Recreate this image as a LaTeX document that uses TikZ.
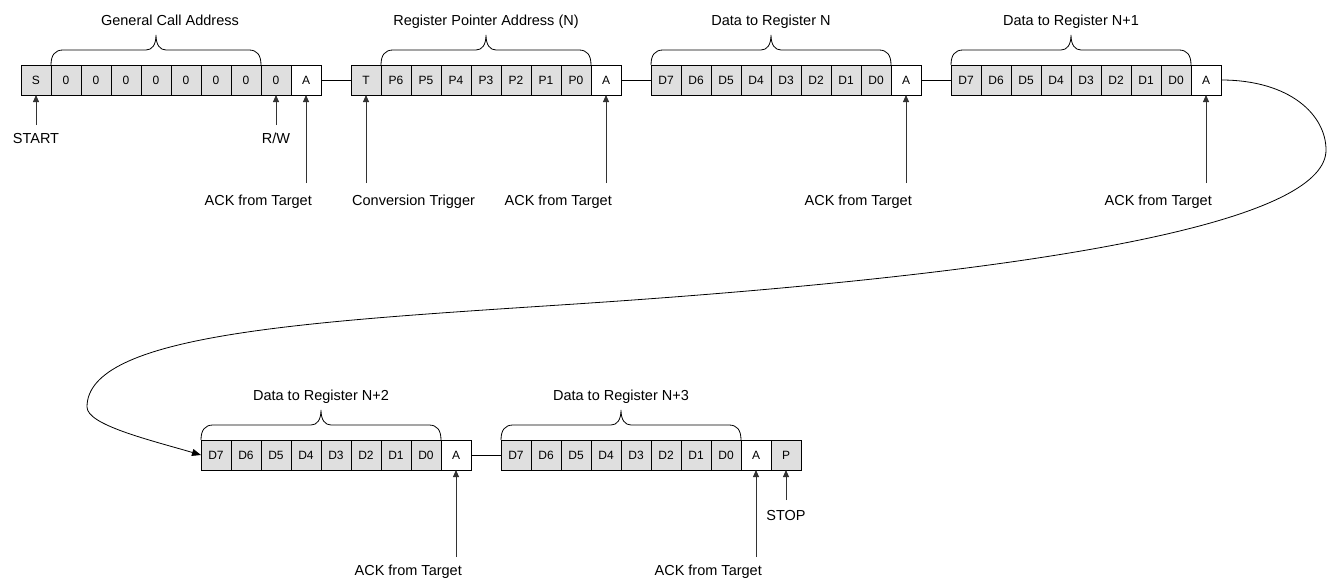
\documentclass[tikz,border=0pt]{standalone}
\usepackage{fontspec}
\setmainfont{Liberation Sans}
\usetikzlibrary{positioning,calc,arrows.meta}

\tikzset{
	bit/.style = {draw, fill=gray!25, minimum width=30pt, minimum height=30pt,
		inner sep=0pt, outer sep=0pt, line width=0.8pt, font=\fontsize{12}{14}\selectfont},
	ackbit/.style = {bit, fill=white},
	lbl/.style = {inner sep=0pt, font=\fontsize{14.5}{17}\selectfont},
	link/.style = {line width=0.8pt},
	tick/.style = {line width=0.8pt, black!80, -{Triangle[length=7pt,width=6pt]}},
	brace/.style = {line width=0.8pt}
}

% one data byte: D7 ... D0 followed by the ack bit
\newcommand{\databyte}[2]{%
	\node[bit, #2] (#1-0) {D7};
	\foreach \b [count=\i, remember=\i as \j (initially 0)] in {D6,D5,D4,D3,D2,D1,D0}
		\node[bit, right=0pt of #1-\j] (#1-\i) {\b};
	\node[ackbit, right=0pt of #1-7] (#1-a) {A};
}

% curly brace over a field, with its title
\newcommand{\fieldbrace}[4][0pt]{%
	\draw[brace] let \p1=(#2.north west), \p2=(#3.north east), \n1={0.5*(\x1+\x2)} in
		(\p1) .. controls (\x1,\y1+10pt) and (\x1+4pt,\y1+15pt) .. (\x1+12pt,\y1+15pt)
		-- (\n1-10pt,\y1+15pt) .. controls (\n1-4pt,\y1+15pt) and (\n1,\y1+20pt) .. (\n1,\y1+30pt)
		.. controls (\n1,\y1+20pt) and (\n1+4pt,\y1+15pt) .. (\n1+10pt,\y1+15pt)
		-- (\x2-12pt,\y1+15pt) .. controls (\x2-4pt,\y1+15pt) and (\x2,\y1+10pt) .. (\p2)
		node[lbl, anchor=base, xshift=#1] (#2-title) at (\n1,\y1+40pt) {#4};
}

\begin{document}
\begin{tikzpicture}[x=1pt, y=-1pt]
	\useasboundingbox (0,0) rectangle (1328,581);

	% general call address
	\node[bit] (g1-0) at (36,80) {S};
	\foreach \b [count=\i, remember=\i as \j (initially 0)] in {0,0,0,0,0,0,0,0}
		\node[bit, right=0pt of g1-\j] (g1-\i) {\b};
	\node[ackbit, right=0pt of g1-8] (g1-a) {A};

	% register pointer
	\node[bit, right=30pt of g1-a] (g2-0) {T};
	\foreach \b [count=\i, remember=\i as \j (initially 0)] in {P6,P5,P4,P3,P2,P1,P0}
		\node[bit, right=0pt of g2-\j] (g2-\i) {\b};
	\node[ackbit, right=0pt of g2-7] (g2-a) {A};

	% data bytes
	\databyte{g3}{right=30pt of g2-a}
	\databyte{g4}{right=30pt of g3-a}
	\databyte{g5}{at={(216,455)}}
	\databyte{g6}{right=30pt of g5-a}
	\node[bit, right=0pt of g6-a] (g6-p) {P};

	\draw[link] (g1-a) -- (g2-0);
	\draw[link] (g2-a) -- (g3-0);
	\draw[link] (g3-a) -- (g4-0);
	\draw[link] (g5-a) -- (g6-0);
	\draw[link, -{Triangle[length=9pt,width=7pt]}] (g4-a.east)
		.. controls (1290,80) and (1326,115) .. (1326,150)
		.. controls (1326,215) and (1100,270) .. (560,305)
		.. controls (300,322) and (87,335) .. (87,407)
		.. controls (87,425) and (150,440) .. (g5-0.west);

	\fieldbrace[14pt]{g1-1}{g1-7}{General Call Address}
	\fieldbrace{g2-1}{g2-7}{Register Pointer Address (N)}
	\fieldbrace{g3-0}{g3-7}{Data to Register N}
	\fieldbrace{g4-0}{g4-7}{Data to Register N+1}
	\fieldbrace{g5-0}{g5-7}{Data to Register N+2}
	\fieldbrace{g6-0}{g6-7}{Data to Register N+3}

	% pointers below the bits
	\node[lbl, below=38pt of g1-0] (start) {START};
	\draw[tick] ([yshift=8pt]start.north) -- (g1-0);
	\node[lbl, below=38pt of g1-8] (rw) {R/W};
	\draw[tick] ([yshift=8pt]rw.north) -- (g1-8);
	\coordinate[below=88pt of g2-0] (g2-ct);
	\draw[tick] (g2-ct) -- (g2-0);
	\node[lbl, anchor=north west] (conv) at ([xshift=-14pt,yshift=-12pt]g2-ct) {Conversion Trigger};
	\foreach \g in {g1,g2,g3,g4} {
		\coordinate[below=88pt of \g-a] (\g-t);
		\draw[tick] (\g-t) -- (\g-a);
		\node[lbl, anchor=north east] (\g-ack) at ([xshift=6pt,yshift=-12pt]\g-t) {ACK from Target};
	}
	\foreach \g in {g5,g6} {
		\coordinate[below=87pt of \g-a] (\g-t);
		\draw[tick] (\g-t) -- (\g-a);
		\node[lbl, anchor=north east] (\g-ack) at ([xshift=6pt,yshift=-8pt]\g-t) {ACK from Target};
	}
	\node[lbl, below=40pt of g6-p] (stop) {STOP};
	\draw[tick] ([yshift=10pt]stop.north) -- (g6-p);
\end{tikzpicture}
\end{document}
